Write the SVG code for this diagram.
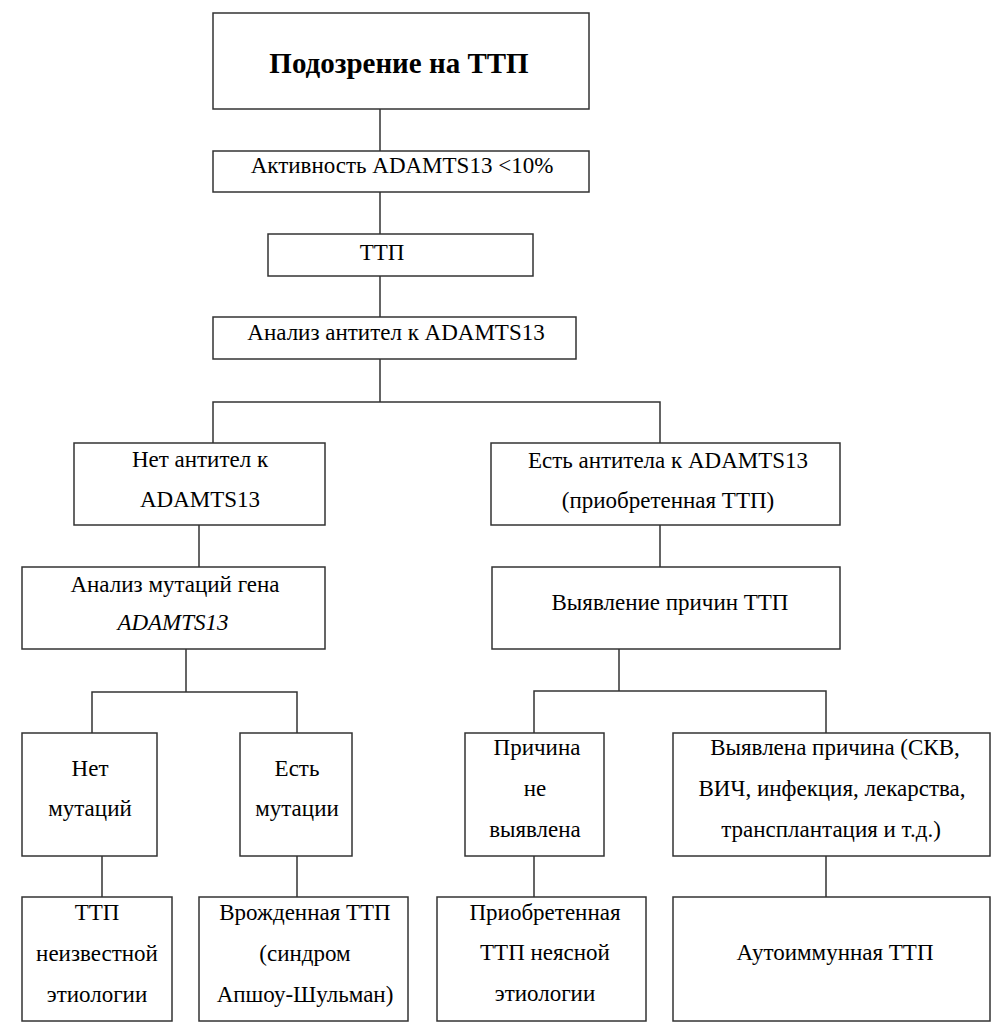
<svg xmlns="http://www.w3.org/2000/svg" width="1002" height="1024" viewBox="0 0 1002 1024">
<style>
.box{fill:none;stroke:#333;stroke-width:1.5}
.conn{fill:none;stroke:#333;stroke-width:1.5}
</style>
<rect x="0" y="0" width="1002" height="1024" fill="#fff"/>
<g id="connectors" class="conn">
<path d="M380 109V151M380 192V234M380 276V317M380 359V402M213 443V402H660V443M199 525V567M660 525V567M186 649V692M92 733V692H297V733M619 649V691M534 733V691H826V733M102 856V897M297 856V897M534 856V897M826 856V897"/>
</g>
<g id="boxes" class="box">
<rect x="213" y="13" width="376" height="96"/>
<rect x="213" y="151" width="376" height="41"/>
<rect x="268" y="234" width="265" height="42"/>
<rect x="213" y="317" width="363" height="42"/>
<rect x="74" y="443" width="251" height="82"/>
<rect x="491" y="443" width="349" height="82"/>
<rect x="22" y="567" width="303" height="82"/>
<rect x="492" y="567" width="348" height="82"/>
<rect x="22" y="733" width="135" height="123"/>
<rect x="240" y="733" width="112" height="123"/>
<rect x="465" y="733" width="139" height="123"/>
<rect x="673" y="733" width="317" height="123"/>
<rect x="22" y="897" width="150" height="124"/>
<rect x="199" y="897" width="209" height="124"/>
<rect x="437" y="897" width="209" height="124"/>
<rect x="673" y="897" width="317" height="124"/>
</g>
<g id="labels" font-family="Times New Roman, Liberation Serif, Tinos, serif" font-size="23" text-anchor="middle" fill="#000">
<g id="n1"><text font-size="29" font-weight="bold" x="399" y="73">Подозрение на ТТП</text></g>
<g id="n2"><text x="402" y="173">Активность ADAMTS13 &lt;10%</text></g>
<g id="n3"><text x="382" y="260">ТТП</text></g>
<g id="n4"><text x="396" y="340">Анализ антител к ADAMTS13</text></g>
<g id="n5"><text x="200" y="467">Нет антител к</text><text x="200" y="507">ADAMTS13</text></g>
<g id="n6"><text x="668" y="468">Есть антитела к ADAMTS13</text><text x="668" y="508">(приобретенная ТТП)</text></g>
<g id="n7"><text x="175" y="592">Анализ мутаций гена</text><text font-style="italic" x="173" y="630">ADAMTS13</text></g>
<g id="n8"><text x="670" y="610">Выявление причин ТТП</text></g>
<g id="n9"><text x="90" y="776">Нет</text><text x="90" y="816">мутаций</text></g>
<g id="n10"><text x="297" y="776">Есть</text><text x="297" y="816">мутации</text></g>
<g id="n11"><text x="537" y="755">Причина</text><text x="535" y="796">не</text><text x="535" y="837">выявлена</text></g>
<g id="n12"><text x="835" y="755">Выявлена причина (СКВ,</text><text x="832" y="796">ВИЧ, инфекция, лекарства,</text><text x="831" y="837">трансплантация и т.д.)</text></g>
<g id="n13"><text x="97" y="920">ТТП</text><text x="97" y="961">неизвестной</text><text x="97" y="1002">этиологии</text></g>
<g id="n14"><text x="305" y="920">Врожденная ТТП</text><text x="305" y="961">(синдром</text><text x="305" y="1002">Апшоу-Шульман)</text></g>
<g id="n15"><text x="545" y="920">Приобретенная</text><text x="545" y="960">ТТП неясной</text><text x="545" y="1001">этиологии</text></g>
<g id="n16"><text x="835" y="960">Аутоиммунная ТТП</text></g>
</g>
</svg>
